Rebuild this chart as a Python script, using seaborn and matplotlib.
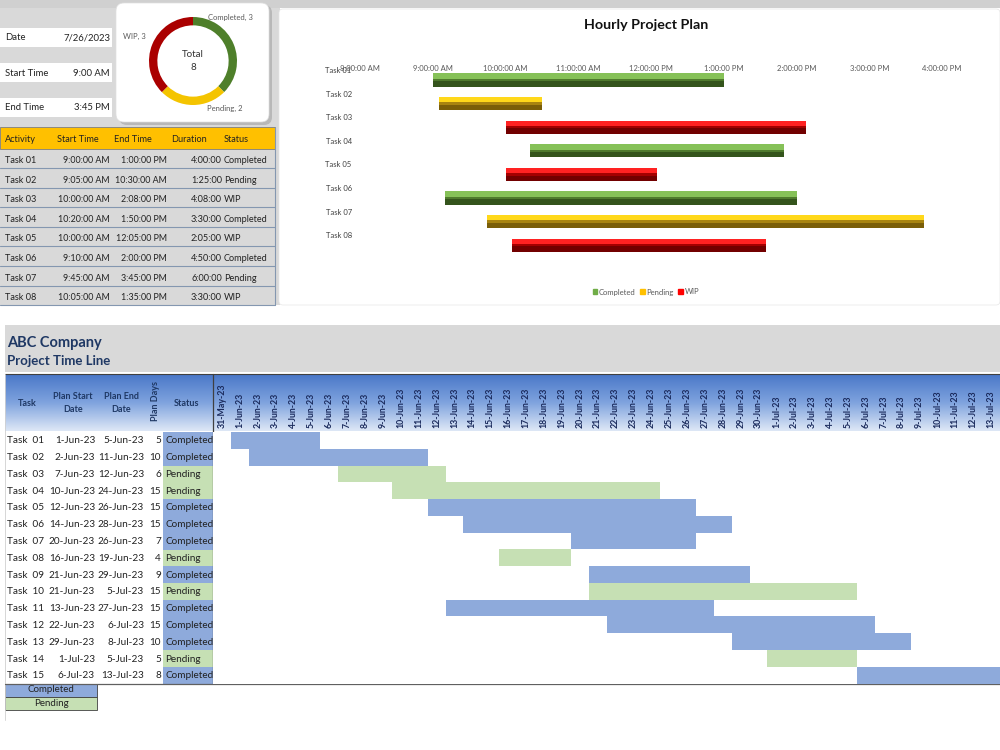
import numpy as np
import pandas as pd
import matplotlib
matplotlib.use('Agg')
import matplotlib.pyplot as plt
from matplotlib.patches import Rectangle, FancyBboxPatch, Patch
from matplotlib.colors import ListedColormap, LinearSegmentedColormap
from matplotlib import transforms
import seaborn as sns

# ---- summary cells ----
report_date = '7/26/2023'
day_start = '9:00 AM'
day_end = '3:45 PM'

# ---- hourly plan ----
activities = ['Task 01', 'Task 02', 'Task 03', 'Task 04', 'Task 05', 'Task 06', 'Task 07', 'Task 08']
start_times = ['9:00:00 AM', '9:05:00 AM', '10:00:00 AM', '10:20:00 AM',
               '10:00:00 AM', '9:10:00 AM', '9:45:00 AM', '10:05:00 AM']
end_times = ['1:00:00 PM', '10:30:00 AM', '2:08:00 PM', '1:50:00 PM',
             '12:05:00 PM', '2:00:00 PM', '3:45:00 PM', '1:35:00 PM']
durations = ['4:00:00', '1:25:00', '4:08:00', '3:30:00', '2:05:00', '4:50:00', '6:00:00', '3:30:00']
hour_status = ['Completed', 'Pending', 'WIP', 'Completed', 'WIP', 'Completed', 'Pending', 'WIP']
hour_ticks = [8, 9, 10, 11, 12, 13, 14, 15, 16]

# ---- donut ----
status_names = ['Completed', 'Pending', 'WIP']
status_counts = [3, 2, 3]

# ---- daily time line ----
tasks = ['Task  01', 'Task  02', 'Task  03', 'Task  04', 'Task  05', 'Task  06', 'Task  07', 'Task  08',
         'Task  09', 'Task  10', 'Task  11', 'Task  12', 'Task  13', 'Task  14', 'Task  15']
plan_start = ['1-Jun-23', '2-Jun-23', '7-Jun-23', '10-Jun-23', '12-Jun-23', '14-Jun-23', '20-Jun-23',
              '16-Jun-23', '21-Jun-23', '21-Jun-23', '13-Jun-23', '22-Jun-23', '29-Jun-23', '1-Jul-23', '6-Jul-23']
plan_end = ['5-Jun-23', '11-Jun-23', '12-Jun-23', '24-Jun-23', '26-Jun-23', '28-Jun-23', '26-Jun-23',
            '19-Jun-23', '29-Jun-23', '5-Jul-23', '27-Jun-23', '6-Jul-23', '8-Jul-23', '5-Jul-23', '13-Jul-23']
plan_days = [5, 10, 6, 15, 15, 15, 7, 4, 9, 15, 15, 15, 10, 5, 8]
plan_status = ['Completed', 'Completed', 'Pending', 'Pending', 'Completed', 'Completed', 'Completed', 'Pending',
               'Completed', 'Pending', 'Completed', 'Completed', 'Completed', 'Pending', 'Completed']
timeline_first = '31-May-23'
timeline_last = '13-Jul-23'

# colours
BLUE, GREEN = '#8eaadb', '#c6e0b4'
NAVY = '#1f3864'
GREY = '#d9d9d9'
bar_light = {'Completed': '#86c158', 'Pending': '#ffd81a', 'WIP': '#ff2222'}
bar_mid = {'Completed': '#4f7a2d', 'Pending': '#a88410', 'WIP': '#a30000'}
bar_dark = {'Completed': '#34541c', 'Pending': '#7a5e08', 'WIP': '#720000'}
legend_col = {'Completed': '#70ad47', 'Pending': '#ffc000', 'WIP': '#ff0000'}
donut_col = ['#4e7f2a', '#f4c400', '#aa0000']

sns.set_theme(style='white')
plt.rcParams['font.family'] = ['Lato', 'DejaVu Sans']

W, H = 1000, 750


def box(x0, y0, x1, y1):
    return [x0 / W, 1 - y1 / H, (x1 - x0) / W, (y1 - y0) / H]


fig = plt.figure(figsize=(10, 7.5), dpi=100)
bg = fig.add_axes([0, 0, 1, 1])
bg.axis('off')

# ================= top left: sheet =================
bg.add_patch(Rectangle((0, 0), 1000, 8, fc='#d0d0d0', ec='none'))
bg.add_patch(Rectangle((0, 8), 280, 297, fc=GREY, ec='none'))
for y0, lab, val in [(28, 'Date', report_date), (63, 'Start Time', day_start), (98, 'End Time', day_end)]:
    bg.add_patch(Rectangle((0, y0), 112, 19, fc='white', ec='none'))
    bg.text(5, y0 + 10, lab, fontsize=6.8, va='center', ha='left', color='#222222')
    bg.text(110, y0 + 10, val, fontsize=6.8, va='center', ha='right', color='#222222')

bg.add_patch(Rectangle((0, 127), 275, 22, fc='#ffc000', ec='#7f7f7f', lw=0.6))
for x, lab in [(5, 'Activity'), (57, 'Start Time'), (114, 'End Time'), (171, 'Duration'), (224, 'Status')]:
    bg.text(x, 139, lab, fontsize=6.6, va='center', ha='left', color='#222222')
for i in range(len(activities)):
    yc = 160.5 + 19.6 * i
    bg.text(5, yc, activities[i], fontsize=6.6, va='center', color='#222222')
    bg.text(110, yc, start_times[i], fontsize=6.4, va='center', ha='right', color='#222222')
    bg.text(167, yc, end_times[i], fontsize=6.4, va='center', ha='right', color='#222222')
    bg.text(222, yc, durations[i], fontsize=6.6, va='center', ha='right', color='#222222')
    bg.text(224, yc, hour_status[i], fontsize=6.6, va='center', ha='left', color='#222222')
    bg.plot([0, 275], [168 + 19.6 * i] * 2, color='#8497b0', lw=0.8)
bg.plot([275, 275], [127, 305], color='#8497b0', lw=0.8)

# donut card
bg.add_patch(FancyBboxPatch((119, 5), 153, 120, boxstyle='round,pad=0,rounding_size=8',
                            fc='#b8b8b8', ec='none'))
bg.add_patch(FancyBboxPatch((116, 3), 153, 119, boxstyle='round,pad=0,rounding_size=8',
                            fc='white', ec='#e0e0e0', lw=0.5))

# hourly chart panel
bg.add_patch(FancyBboxPatch((279, 9), 721, 296, boxstyle='round,pad=0,rounding_size=4',
                            fc='white', ec='#e6e6e6', lw=0.5))
bg.text(646, 25, 'Hourly Project Plan', fontsize=10.3, fontweight='bold', ha='center', va='center',
        color='#111111')

# ================= bottom: project time line =================
bg.add_patch(Rectangle((5, 325), 995, 47, fc=GREY, ec='none'))
bg.text(7, 343, 'ABC Company', fontsize=10.5, fontweight='bold', color=NAVY, va='center')
bg.text(7, 361, 'Project Time Line', fontsize=9.5, fontweight='bold', color=NAVY, va='center')

grad = LinearSegmentedColormap.from_list('hdr', ['#4a78c8', '#7fa3de', '#dde7f6'])
bg.imshow(np.linspace(0, 1, 60).reshape(-1, 1), cmap=grad, aspect='auto',
          extent=(5, 1000, 431, 374), zorder=1)
bg.plot([5, 1000], [374, 374], color='#404040', lw=0.8, zorder=2)

for x, lab in [(27, 'Task'), (73, 'Plan Start\nDate'), (121, 'Plan End\nDate'), (187, 'Status')]:
    bg.text(x, 403, lab, fontsize=6.5, fontweight='bold', color=NAVY, ha='center', va='center',
            linespacing=1.6, zorder=3)
bg.text(155, 401, 'Plan Days', fontsize=6.5, fontweight='bold', color=NAVY, ha='center', va='center',
        rotation=90, zorder=3)

for i in range(len(tasks)):
    top = 432 + 16.8 * i
    yc = top + 8.6
    c = BLUE if plan_status[i] == 'Completed' else GREEN
    bg.add_patch(Rectangle((163, top), 50, 16.8, fc=c, ec='none'))
    bg.text(7, yc, tasks[i], fontsize=7.2, va='center', color='#222222')
    bg.text(95, yc, plan_start[i], fontsize=7.2, va='center', ha='right', color='#222222')
    bg.text(144, yc, plan_end[i], fontsize=7.2, va='center', ha='right', color='#222222')
    bg.text(161, yc, str(plan_days[i]), fontsize=7.2, va='center', ha='right', color='#222222')
    bg.text(165, yc, plan_status[i], fontsize=7.2, va='center', ha='left', color='#222222')

bg.plot([213, 213], [374, 683], color='#404040', lw=0.9, zorder=4)
bg.plot([5, 1000], [683.5, 683.5], color='#606060', lw=0.9, zorder=4)
bg.plot([5, 5], [374, 720], color='#d0d0d0', lw=0.6)

bg.add_patch(Rectangle((5, 683.5), 92, 13.5, fc=BLUE, ec='#404040', lw=0.6))
bg.add_patch(Rectangle((5, 697), 92, 13, fc=GREEN, ec='#404040', lw=0.6))
bg.text(51, 690, 'Completed', fontsize=7, ha='center', va='center', color='#222222')
bg.text(51, 704, 'Pending', fontsize=7, ha='center', va='center', color='#222222')

bg.set_xlim(0, W)
bg.set_ylim(H, 0)

# ================= donut =================
ax_d = fig.add_axes(box(138, 6, 248, 116))
ax_d.pie(status_counts, colors=donut_col, startangle=90, counterclock=False,
         wedgeprops=dict(width=0.19, edgecolor='none', linewidth=0))
ax_d.text(0, 0.14, 'Total', ha='center', va='center', fontsize=7, color='#333333')
ax_d.text(0, -0.14, str(sum(status_counts)), ha='center', va='center', fontsize=7, color='#333333')
for (x, y), name, n in zip([(0.84, 1.0), (0.73, -1.07), (-1.34, 0.55)], status_names, status_counts):
    ax_d.text(x, y, f'{name}, {n}', ha='center', va='center', fontsize=5.5, color='#595959')

# ================= hourly gantt =================
t0 = pd.to_datetime(start_times, format='%I:%M:%S %p')
t1 = pd.to_datetime(end_times, format='%I:%M:%S %p')
h0 = t0.hour + t0.minute / 60
h1 = t1.hour + t1.minute / 60
ypos = np.arange(len(activities))

ax_g = fig.add_axes(box(360, 73, 942, 257))
ax_g.patch.set_alpha(0)
bh = 0.56
for s in status_names:
    m = np.array(hour_status) == s
    ax_g.barh(ypos[m], (h1 - h0)[m], left=h0[m], height=bh, color=bar_dark[s],
              edgecolor='none', linewidth=0, zorder=2)
    ax_g.barh(ypos[m] - bh * 0.06, (h1 - h0)[m], left=h0[m], height=bh * 0.3,
              color=bar_mid[s], edgecolor='none', linewidth=0, zorder=3)
    ax_g.barh(ypos[m] - bh * 0.3, (h1 - h0)[m], left=h0[m], height=bh * 0.4,
              color=bar_light[s], edgecolor='none', linewidth=0, zorder=4)
ax_g.set_xlim(8, 16)
ax_g.set_ylim(7.5, -0.3)
ax_g.xaxis.tick_top()
ax_g.set_xticks(hour_ticks)
ax_g.set_xticklabels([f"{(h - 1) % 12 + 1}:00:00 {'AM' if h < 12 else 'PM'}" for h in hour_ticks])
ax_g.set_yticks(ypos)
ax_g.set_yticklabels(activities)
ax_g.tick_params(axis='x', labelsize=5.5, labelcolor='#595959', length=0, pad=1)
ax_g.tick_params(axis='y', labelsize=5.5, labelcolor='#404040', length=0, pad=6)
shift = transforms.ScaledTranslation(0, 0.10, fig.dpi_scale_trans)
for lab in ax_g.get_yticklabels():
    lab.set_transform(lab.get_transform() + shift)
for sp in ax_g.spines.values():
    sp.set_visible(False)
ax_g.grid(False)
ax_g.legend([Patch(color=legend_col[s]) for s in status_names], status_names,
            loc='center', bbox_to_anchor=(646 / W, 1 - 292 / H), bbox_transform=fig.transFigure,
            ncol=3, frameon=False, fontsize=5.5, handlelength=0.6, handleheight=0.6,
            handletextpad=0.2, columnspacing=0.6, labelcolor='#595959')

# ================= daily gantt (heatmap) =================
days = pd.date_range(pd.to_datetime(timeline_first, format='%d-%b-%y'),
                     pd.to_datetime(timeline_last, format='%d-%b-%y'))
day_labels = [f"{d.day}-{d.strftime('%b-%y')}" for d in days]
ds = pd.to_datetime(plan_start, format='%d-%b-%y')
de = pd.to_datetime(plan_end, format='%d-%b-%y')
grid = np.full((len(tasks), len(days)), np.nan)
for i in range(len(tasks)):
    on = (days >= ds[i]) & (days <= de[i])
    grid[i, on] = 1 if plan_status[i] == 'Completed' else 2
timeline = pd.DataFrame(grid, index=tasks, columns=day_labels)

ax_h = fig.add_axes(box(213, 432, 1000, 683.5))
sns.heatmap(timeline, ax=ax_h, cmap=ListedColormap([BLUE, GREEN]), vmin=0.5, vmax=2.5,
            mask=timeline.isna(), cbar=False, xticklabels=day_labels, yticklabels=False,
            linewidths=0)
ax_h.xaxis.set_ticks_position('top')
ax_h.set_xticklabels(day_labels, rotation=90, fontsize=6.3, fontweight='bold', color='#1a2a5c')
ax_h.tick_params(axis='x', length=0, pad=3)
ax_h.set_xlabel('')
ax_h.set_ylabel('')

fig.savefig('out.png', dpi=100)
